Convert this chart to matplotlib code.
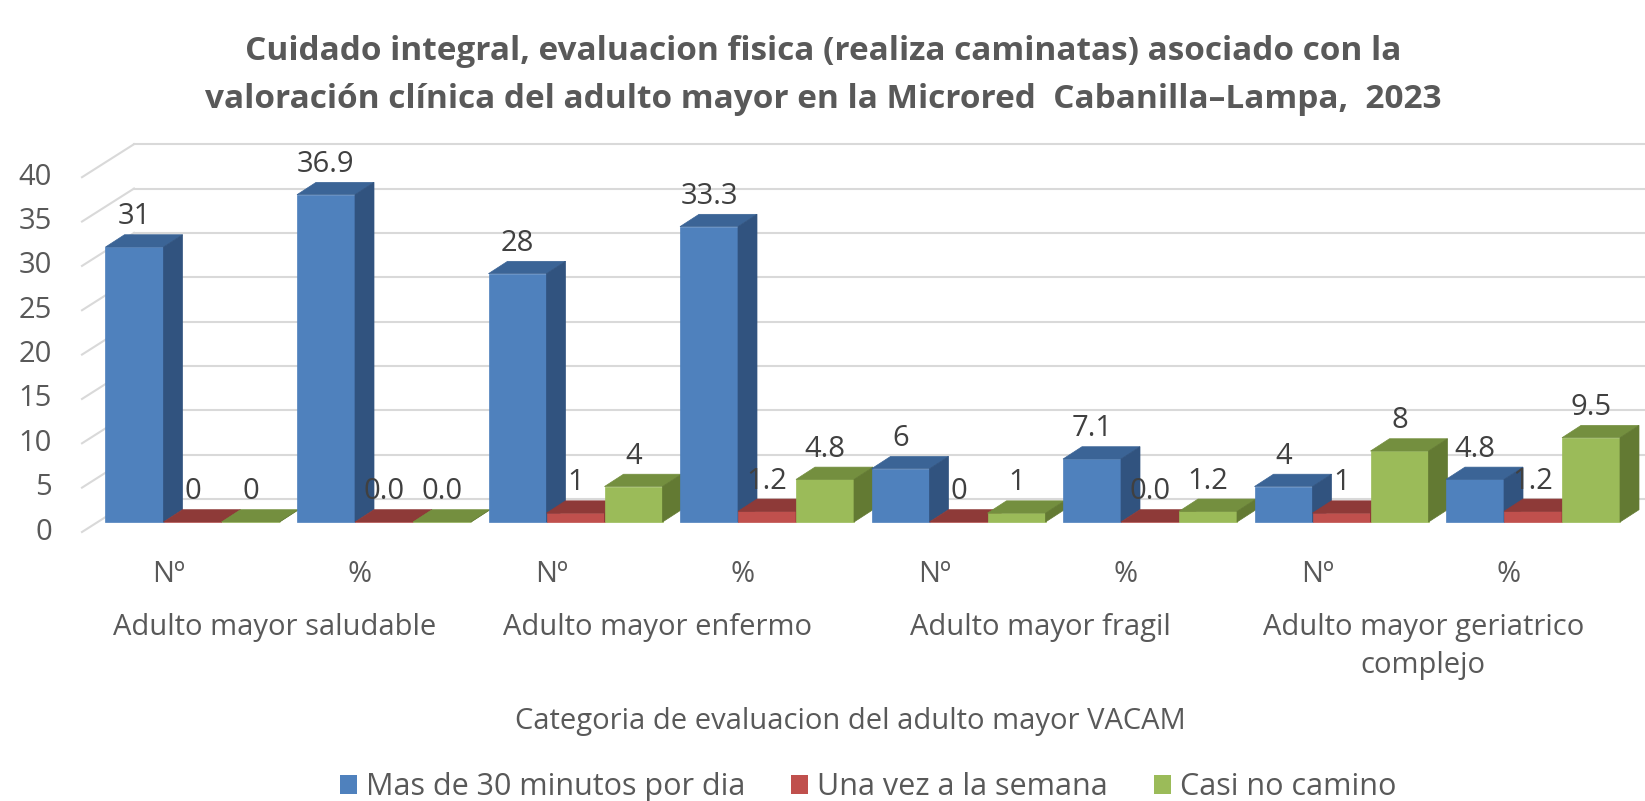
# Cuidado integral - grafico de barras con efecto 3D (estilo Excel)
import matplotlib.pyplot as plt
from matplotlib.patches import Polygon, Patch

plt.rcParams['font.family'] = ['Open Sans', 'DejaVu Sans']

# datos
grupos = ['Adulto mayor saludable', 'Adulto mayor enfermo', 'Adulto mayor fragil',
          'Adulto mayor geriatrico\ncomplejo']
subcat = ['Nº', '%', 'Nº', '%', 'Nº', '%', 'Nº', '%']
mas_30 = [31, 36.9, 28, 33.3, 6, 7.1, 4, 4.8]
una_vez = [0, 0.0, 1, 1.2, 0, 0.0, 1, 1.2]
casi_no = [0, 0.0, 4, 4.8, 1, 1.2, 8, 9.5]
series = ['Mas de 30 minutos por dia', 'Una vez a la semana', 'Casi no camino']
yticks = [0, 5, 10, 15, 20, 25, 30, 35, 40]

# colores (frente, tapa, lado)
colores = [('#4F81BD', '#3B6496', '#31537F'),
           ('#C0504D', '#8E3A38', '#8A3533'),
           ('#9BBB59', '#748F3F', '#637A33')]
gris = '#595959'
fs = 21  # tamaño de letra general

# escala en pixeles -> datos
W, H = 1645, 801
SLOT = 191.5   # px por categoria
UNIT = 8.87    # px por unidad
X0, Y0 = 192.5, 522  # centro slot 0, base de barras

fig = plt.figure(figsize=(W / 100, H / 100), dpi=100)
ax = fig.add_axes([0, 0, 1, 1])
ax.set_xlim(-X0 / SLOT, (W - X0) / SLOT)
ax.set_ylim(-(H - Y0) / UNIT, Y0 / UNIT)
ax.axis('off')

def px(dx, dy):
    return dx / SLOT, dy / UNIT

bw = 58 / SLOT
DX, DY = px(19, 12.3)   # profundidad de barra
BX, BY = px(36, 23)     # pared del fondo
LX, LY = px(-16, -10)   # plano frontal
wall_left = -94.5 / SLOT
x_right = (W - X0) / SLOT

# lineas de division
for v in yticks:
    ax.plot([wall_left + LX, wall_left + BX], [v + LY, v + BY], color='#D9D9D9', lw=1.5, zorder=1)
    ax.plot([wall_left + BX, x_right], [v + BY, v + BY], color='#D9D9D9', lw=1.5, zorder=1)
    ax.text((52 - X0) / SLOT, v + LY, str(v), ha='right', va='center', fontsize=fs, color=gris)

# barras
valores = [mas_30, una_vez, casi_no]
z = 2
for c in range(len(subcat)):
    for s, vals in enumerate(valores):
        h = vals[c]
        x = c - 1.5 * bw + s * bw
        fr, tp, sd = colores[s]
        ax.add_patch(Polygon([(x, 0), (x + bw, 0), (x + bw, h), (x, h)], closed=True,
                             facecolor=fr, edgecolor=fr, lw=0.5, zorder=z))
        ax.add_patch(Polygon([(x, h), (x + bw, h), (x + bw + DX, h + DY), (x + DX, h + DY)],
                             closed=True, facecolor=tp, edgecolor=tp, lw=0.5, zorder=z))
        ax.add_patch(Polygon([(x + bw, 0), (x + bw + DX, DY), (x + bw + DX, h + DY), (x + bw, h)],
                             closed=True, facecolor=sd, edgecolor=sd, lw=0.5, zorder=z))
        z += 1
        etiqueta = '%d' % h if subcat[c] == 'Nº' else '%.1f' % h
        ax.text(x + bw / 2, h + DY + 18 / UNIT, etiqueta, ha='center', va='center',
                fontsize=fs, color='#404040', zorder=100)

# etiquetas del eje x
for c, lab in enumerate(subcat):
    ax.text(c - 24 / SLOT, -53 / UNIT, lab, ha='center', va='center', fontsize=fs, color=gris)
for g, lab in enumerate(grupos):
    ax.text(2 * g + 0.5 - 14 / SLOT, -91 / UNIT, lab, ha='center', va='top', fontsize=fs,
            color=gris, linespacing=1.4)

ax.text((850 - X0) / SLOT, -(721 - Y0) / UNIT, 'Categoria de evaluacion del adulto mayor VACAM',
        ha='center', va='center', fontsize=fs, color=gris)

# titulo
fig.text(823 / W, 1 - 52 / H,
         'Cuidado integral, evaluacion fisica (realiza caminatas) asociado con la',
         ha='center', va='center', fontsize=24, fontweight='bold', color=gris)
fig.text(823 / W, 1 - 100 / H,
         'valoración clínica del adulto mayor en la Microred  Cabanilla–Lampa,  2023',
         ha='center', va='center', fontsize=24, fontweight='bold', color=gris)

# leyenda
handles = [Patch(facecolor=colores[i][0], label=series[i]) for i in range(3)]
fig.legend(handles=handles, loc='center', bbox_to_anchor=(868 / W, 1 - 787 / H), ncol=3,
           frameon=False, fontsize=22, labelcolor=gris, handlelength=0.55, handleheight=0.6,
           handletextpad=0.3, columnspacing=1.5)

fig.savefig('out.png', dpi=100)
